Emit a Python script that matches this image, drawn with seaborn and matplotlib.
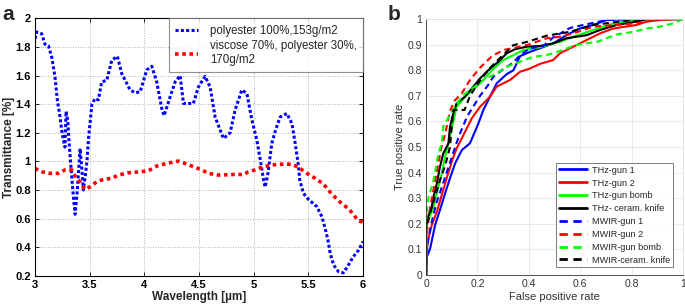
#!/usr/bin/env python3
"""Transmittance spectra (a) and ROC curves (b), redrawn with seaborn."""

import matplotlib
matplotlib.use('Agg')
import matplotlib.pyplot as plt
import matplotlib.ticker as mticker
import seaborn as sns

# ---- panel a: transmittance spectra ----
poly_wl = [3.0, 3.016, 3.061, 3.091, 3.122, 3.153, 3.183, 3.204, 3.229, 3.244,
           3.259, 3.274, 3.284, 3.30, 3.31, 3.325, 3.34, 3.355, 3.367, 3.385,
           3.40, 3.412, 3.425, 3.442, 3.46, 3.475, 3.49, 3.505, 3.52, 3.549,
           3.579, 3.61, 3.656, 3.702, 3.753, 3.793, 3.869, 3.915, 3.961, 4.022,
           4.068, 4.113, 4.159, 4.18, 4.235, 4.281, 4.327, 4.357, 4.403, 4.448,
           4.494, 4.555, 4.601, 4.647, 4.723, 4.784, 4.83, 4.891, 4.937, 4.983,
           5.028, 5.06, 5.09, 5.104, 5.13, 5.165, 5.20, 5.241, 5.303, 5.349,
           5.379, 5.41, 5.42, 5.455, 5.50, 5.577, 5.623, 5.653, 5.678, 5.699,
           5.73, 5.775, 5.82, 5.866, 5.91, 5.96, 6.0]
poly_tr = [1.858, 1.905, 1.893, 1.82, 1.81, 1.73, 1.59, 1.43, 1.31, 1.22,
           1.15, 1.10, 1.35, 1.28, 1.15, 1.0, 0.85, 0.72, 0.63, 0.78,
           0.95, 1.09, 0.98, 0.80, 0.90, 1.0, 1.17, 1.28, 1.40, 1.44,
           1.43, 1.556, 1.567, 1.707, 1.735, 1.614, 1.50, 1.48, 1.486, 1.64,
           1.665, 1.556, 1.37, 1.32, 1.45, 1.556, 1.60, 1.405, 1.405, 1.405,
           1.52, 1.595, 1.52, 1.31, 1.16, 1.20, 1.36, 1.50, 1.475, 1.29,
           1.15, 1.01, 0.87, 0.82, 0.916, 1.126, 1.22, 1.31, 1.335, 1.265,
           1.126, 0.962, 0.87, 0.776, 0.734, 0.683, 0.613, 0.53, 0.45, 0.357,
           0.275, 0.228, 0.22, 0.275, 0.333, 0.38, 0.44]

visc_wl = [3.0, 3.061, 3.137, 3.213, 3.274, 3.336, 3.366, 3.41, 3.457, 3.503,
           3.564, 3.625, 3.702, 3.762, 3.854, 3.961, 4.037, 4.113, 4.205, 4.311,
           4.357, 4.434, 4.525, 4.586, 4.677, 4.784, 4.845, 4.906, 4.951, 5.013,
           5.089, 5.21, 5.287, 5.349, 5.409, 5.486, 5.562, 5.638, 5.714, 5.79,
           5.873, 5.958, 6.0]
visc_tr = [0.951, 0.927, 0.916, 0.916, 0.94, 0.94, 0.897, 0.857, 0.804, 0.822,
           0.857, 0.874, 0.881, 0.904, 0.92, 0.927, 0.934, 0.967, 0.986, 1.002,
           0.99, 0.967, 0.94, 0.916, 0.904, 0.907, 0.909, 0.907, 0.927, 0.94,
           0.963, 0.979, 0.98, 0.98, 0.958, 0.916, 0.881, 0.841, 0.77, 0.715,
           0.664, 0.583, 0.575]

# ---- panel b: ROC curves ----
thz_gun1_fpr = [0, 0.003, 0.016, 0.035, 0.054, 0.074, 0.093, 0.113, 0.139, 0.171,
                0.204, 0.223, 0.249, 0.275, 0.314, 0.34, 0.366, 0.405, 0.444, 0.495,
                0.547, 0.599, 0.651, 0.703, 0.79, 1.0]
thz_gun1_tpr = [0, 0.07, 0.104, 0.195, 0.254, 0.319, 0.378, 0.436, 0.488, 0.515,
                0.593, 0.645, 0.697, 0.749, 0.785, 0.80, 0.855, 0.872, 0.886, 0.905,
                0.9375, 0.963, 0.977, 0.996, 1.0, 1.0]

thz_gun2_fpr = [0, 0.003, 0.009, 0.022, 0.042, 0.061, 0.08, 0.10, 0.119, 0.132,
                0.178, 0.21, 0.249, 0.275, 0.327, 0.366, 0.405, 0.444, 0.495, 0.521,
                0.573, 0.625, 0.677, 0.729, 0.82, 0.859, 0.91, 1.0]
thz_gun2_tpr = [0, 0.098, 0.143, 0.195, 0.247, 0.3125, 0.378, 0.443, 0.495, 0.52,
                0.612, 0.657, 0.697, 0.736, 0.762, 0.794, 0.807, 0.825, 0.84, 0.866,
                0.892, 0.918, 0.944, 0.963, 0.977, 0.99, 0.996, 1.0]

thz_bomb_fpr = [0, 0.003, 0.009, 0.029, 0.048, 0.061, 0.074, 0.087, 0.10, 0.119,
                0.158, 0.197, 0.223, 0.256, 0.301, 0.34, 0.379, 0.444, 0.521, 0.573,
                0.651, 0.729, 0.833, 1.0]
thz_bomb_tpr = [0, 0.20, 0.215, 0.267, 0.345, 0.397, 0.462, 0.514, 0.573, 0.657,
                0.703, 0.736, 0.762, 0.80, 0.84, 0.859, 0.879, 0.89, 0.911, 0.931,
                0.957, 0.983, 0.999, 1.0]

thz_knife_fpr = [0, 0, 0.003, 0.022, 0.029, 0.042, 0.054, 0.067, 0.087, 0.093,
                 0.106, 0.119, 0.152, 0.184, 0.21, 0.242, 0.281, 0.314, 0.346, 0.392,
                 0.444, 0.495, 0.547, 0.625, 0.677, 0.742, 0.82, 0.86, 1.0]
thz_knife_tpr = [0, 0.176, 0.215, 0.267, 0.306, 0.358, 0.423, 0.475, 0.514, 0.579,
                 0.632, 0.671, 0.697, 0.736, 0.768, 0.80, 0.833, 0.866, 0.882, 0.892,
                 0.895, 0.905, 0.925, 0.937, 0.957, 0.977, 0.99, 1.0, 1.0]

mwir_gun1_fpr = [0, 0.005, 0.02, 0.04, 0.06, 0.08, 0.10, 0.12, 0.135, 0.16,
                 0.185, 0.21, 0.24, 0.262, 0.295, 0.34, 0.366, 0.405, 0.457, 0.495,
                 0.56, 0.612, 0.703, 0.80, 1.0]
mwir_gun1_tpr = [0, 0.12, 0.20, 0.28, 0.34, 0.40, 0.46, 0.52, 0.56, 0.62,
                 0.66, 0.70, 0.74, 0.775, 0.80, 0.83, 0.86, 0.885, 0.895, 0.928,
                 0.965, 0.977, 0.996, 1.0, 1.0]

mwir_gun2_fpr = [0, 0.003, 0.015, 0.03, 0.045, 0.06, 0.074, 0.093, 0.11, 0.139,
                 0.171, 0.21, 0.236, 0.256, 0.301, 0.392, 0.47, 0.521, 0.573, 0.651,
                 0.742, 0.81, 0.898, 0.95, 1.0]
mwir_gun2_tpr = [0, 0.16, 0.26, 0.34, 0.42, 0.50, 0.55, 0.64, 0.68, 0.71,
                 0.762, 0.81, 0.835, 0.855, 0.879, 0.898, 0.925, 0.931, 0.944, 0.97,
                 0.977, 0.983, 0.996, 1.0, 1.0]

mwir_bomb_fpr = [0, 0.003, 0.009, 0.029, 0.048, 0.061, 0.067, 0.119, 0.145, 0.223,
                 0.275, 0.314, 0.366, 0.418, 0.47, 0.521, 0.573, 0.62, 0.664, 0.703,
                 0.742, 0.807, 0.859, 0.91, 0.962, 1.0]
mwir_bomb_tpr = [0, 0.254, 0.30, 0.37, 0.475, 0.514, 0.58, 0.67, 0.703, 0.762,
                 0.788, 0.814, 0.833, 0.853, 0.859, 0.875, 0.895, 0.905, 0.91, 0.925,
                 0.94, 0.95, 0.963, 0.97, 0.983, 1.0]

mwir_knife_fpr = [0, 0, 0.009, 0.035, 0.054, 0.075, 0.093, 0.106, 0.15, 0.171,
                  0.21, 0.25, 0.29, 0.34, 0.39, 0.47, 0.56, 0.651, 0.755, 0.833, 1.0]
mwir_knife_tpr = [0, 0.18, 0.22, 0.306, 0.37, 0.43, 0.50, 0.645, 0.645, 0.70,
                  0.76, 0.81, 0.85, 0.898, 0.91, 0.935, 0.95, 0.977, 0.99, 1.0, 1.0]

ROC_SERIES = [
    ('THz-gun 1', thz_gun1_fpr, thz_gun1_tpr, '#0000ff', '-'),
    ('THz-gun 2', thz_gun2_fpr, thz_gun2_tpr, '#ff0000', '-'),
    ('THz-gun bomb', thz_bomb_fpr, thz_bomb_tpr, '#00ff00', '-'),
    ('THz- ceram. knife', thz_knife_fpr, thz_knife_tpr, '#000000', '-'),
    ('MWIR-gun 1', mwir_gun1_fpr, mwir_gun1_tpr, '#0000ff', (0, (3, 2))),
    ('MWIR-gun 2', mwir_gun2_fpr, mwir_gun2_tpr, '#ff0000', (0, (3, 2))),
    ('MWIR-gun bomb', mwir_bomb_fpr, mwir_bomb_tpr, '#00ff00', (0, (3, 2))),
    ('MWIR-ceram. knife', mwir_knife_fpr, mwir_knife_tpr, '#000000', (0, (3, 2))),
]


def matlab_fmt(v, _pos=None):
    return f'{v:g}'


sns.set_theme(style='white')
plt.rcParams['font.family'] = ['Liberation Sans', 'DejaVu Sans']

fig = plt.figure(figsize=(6.85, 3.07), dpi=100)
ax_a = fig.add_axes([0.0511, 0.102, 0.479, 0.838])
ax_b = fig.add_axes([0.622, 0.104, 0.375, 0.834])

# ---- panel a ----
sns.lineplot(x=poly_wl, y=poly_tr, ax=ax_a, color='#0000ff', linewidth=2.2,
             linestyle=(0, (1, 0.75)), estimator=None, sort=False,
             label='polyester 100%,153g/m2')
sns.lineplot(x=visc_wl, y=visc_tr, ax=ax_a, color='#ff0000', linewidth=2.6,
             linestyle=(0, (1, 1.0)), estimator=None, sort=False,
             label='viscose 70%, polyester 30%,\n170g/m2')
ax_a.set_xlim(3, 6)
ax_a.set_ylim(0.2, 2)
ax_a.xaxis.set_major_locator(mticker.MultipleLocator(0.5))
ax_a.yaxis.set_major_locator(mticker.MultipleLocator(0.2))
ax_a.xaxis.set_major_formatter(mticker.FuncFormatter(matlab_fmt))
ax_a.yaxis.set_major_formatter(mticker.FuncFormatter(matlab_fmt))
ax_a.grid(True, color='0.6', linestyle=(0, (1, 2)), linewidth=0.6)
for s in ax_a.spines.values():
    s.set_color('black')
    s.set_linewidth(0.8)
ax_a.tick_params(direction='in', length=3, width=0.6, labelsize=8, pad=3,
                 top=True, right=True, bottom=True, left=True, colors='black')
for lab in ax_a.get_xticklabels() + ax_a.get_yticklabels():
    lab.set_fontweight('bold')
ax_a.set_xlabel('Wavelength [µm]', fontsize=8.5, fontweight='bold', labelpad=1)
ax_a.set_ylabel('Transmittance [%]', fontsize=8.5, fontweight='bold')
ax_a.yaxis.set_label_coords(-0.062, 0.5)
leg_a = ax_a.legend(loc='upper right', bbox_to_anchor=(1.0, 1.0), borderaxespad=0,
                    fontsize=8.3, frameon=True, fancybox=False, handlelength=2.0,
                    labelspacing=0.3, borderpad=0.55, handletextpad=1.0)
leg_a.get_frame().set_edgecolor('0.45')
leg_a.get_frame().set_linewidth(0.8)

# ---- panel b ----
for name, fpr, tpr, color, ls in ROC_SERIES:
    sns.lineplot(x=fpr, y=tpr, ax=ax_b, color=color, linewidth=1.5, linestyle=ls,
                 estimator=None, sort=False, label=name)
ax_b.set_xlim(0, 1)
ax_b.set_ylim(0, 1)
ax_b.xaxis.set_major_locator(mticker.MultipleLocator(0.2))
ax_b.yaxis.set_major_locator(mticker.MultipleLocator(0.1))
ax_b.xaxis.set_major_formatter(mticker.FuncFormatter(matlab_fmt))
ax_b.yaxis.set_major_formatter(mticker.FuncFormatter(matlab_fmt))
ax_b.grid(True, color='0.9', linestyle='-', linewidth=0.6)
for side in ['left', 'bottom']:
    ax_b.spines[side].set_color('0.2')
    ax_b.spines[side].set_linewidth(0.6)
for side in ['top', 'right']:
    ax_b.spines[side].set_color('0.88')
    ax_b.spines[side].set_linewidth(0.6)
ax_b.tick_params(direction='in', length=2.5, width=0.5, labelsize=7.5, pad=3,
                 colors='0.25', labelcolor='0.2')
ax_b.set_xlabel('False positive rate', fontsize=8, color='0.2', labelpad=2)
ax_b.set_ylabel('True positive rate', fontsize=8, color='0.2', labelpad=2)
leg_b = ax_b.legend(loc='lower right', bbox_to_anchor=(0.962, 0.03), borderaxespad=0,
                    fontsize=6.6, frameon=True, fancybox=False, handlelength=3.0,
                    labelspacing=0.42, borderpad=0.3, handletextpad=0.6)
leg_b.get_frame().set_edgecolor('0.25')
leg_b.get_frame().set_linewidth(0.6)
for line in leg_b.get_lines():
    line.set_linewidth(2.0)

fig.text(0.004, 0.985, 'a', fontsize=15, fontweight='bold', va='top', ha='left')
fig.text(0.566, 0.985, 'b', fontsize=15, fontweight='bold', va='top', ha='left')

fig.savefig('out.png', dpi=100)
plt.close(fig)
